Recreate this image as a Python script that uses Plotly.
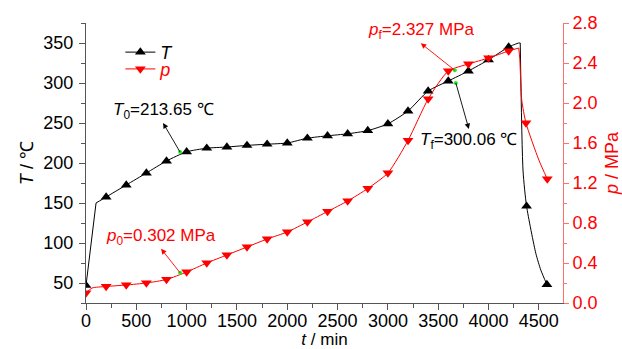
import plotly.graph_objects as go

# ---- data ----
# marker points (every ~200 min)
T_mark_t = [0, 200, 400, 600, 800, 1000, 1200, 1400, 1600, 1800, 2000, 2200, 2400,
            2600, 2800, 3000, 3200, 3400, 3600, 3800, 4000, 4200, 4378, 4580]
T_mark_v = [47, 157.5, 172.5, 187.5, 202.5, 214, 218.5, 220, 222, 223.5, 225, 231, 234,
            236.5, 240.5, 249, 265, 290, 302.5, 315, 329, 345, 146, 48]
p_mark_t = [0, 200, 400, 600, 800, 1000, 1200, 1400, 1600, 1800, 2000, 2200, 2400,
            2600, 2800, 3000, 3200, 3400, 3600, 3800, 4000, 4200, 4372, 4584]
p_mark_v = [0.10, 0.165, 0.18, 0.20, 0.235, 0.31, 0.40, 0.48, 0.56, 0.64, 0.71, 0.81, 0.915,
            1.02, 1.145, 1.30, 1.625, 2.04, 2.32, 2.39, 2.45, 2.52, 1.80, 1.24]

# curve paths (markers plus extra points)
T_start_t = [0, 100]
T_start_v = [47, 150]
T_rise_t = [100, 200, 400, 600, 800, 1000, 1200, 1400, 1600, 1800, 2000, 2200, 2400,
            2600, 2800, 3000, 3200, 3400, 3600, 3800, 4000, 4200, 4300, 4315]
T_rise_v = [150, 157.5, 172.5, 187.5, 202.5, 214, 218.5, 220, 222, 223.5, 225, 231, 234,
            236.5, 240.5, 249, 265, 290, 302.5, 315, 329, 345, 350, 350]
T_drop_t = [4315, 4343, 4378, 4470, 4520, 4580]
T_drop_v = [350, 190, 146, 87, 66, 48]

p_rise_t = [0, 60, 200, 400, 600, 800, 1000, 1200, 1400, 1600, 1800, 2000, 2200, 2400,
            2600, 2800, 3000, 3200, 3400, 3600, 3800, 4000, 4200, 4300]
p_rise_v = [0.10, 0.15, 0.165, 0.18, 0.20, 0.235, 0.31, 0.40, 0.48, 0.56, 0.64, 0.71, 0.81, 0.915,
            1.02, 1.145, 1.30, 1.625, 2.04, 2.32, 2.39, 2.45, 2.52, 2.55]
p_drop_t = [4300, 4310, 4330, 4372, 4500, 4584]
p_drop_v = [2.55, 2.45, 2.03, 1.80, 1.43, 1.24]

# key points
key_t = {"T0": 935, "Tf": 3675, "p0": 935, "pf": 3665}
key_v = {"T0": 213.65, "Tf": 300.06, "p0": 0.302, "pf": 2.327}
key_text = {
    "T0": "<i>T</i><sub>0</sub>=213.65 ℃",
    "p0": "<i>p</i><sub>0</sub>=0.302 MPa",
    "pf": "<i>p</i><sub>f</sub>=2.327 MPa",
    "Tf": "<i>T</i><sub>f</sub>=300.06 ℃",
}

x_ticks = [0, 500, 1000, 1500, 2000, 2500, 3000, 3500, 4000, 4500]
T_ticks = [50, 100, 150, 200, 250, 300, 350]
p_ticks = [0.0, 0.4, 0.8, 1.2, 1.6, 2.0, 2.4, 2.8]

FONT = "Liberation Sans, Arial, sans-serif"
BLACK = "#000000"
RED = "#ff0000"
AXC = "#555555"
RAXC = "#ff7070"

fig = go.Figure()

# T lines
fig.add_trace(go.Scatter(x=T_start_t, y=T_start_v, mode="lines", line=dict(color=BLACK, width=1),
                         showlegend=False, hoverinfo="skip"))
fig.add_trace(go.Scatter(x=T_rise_t, y=T_rise_v, mode="lines",
                         line=dict(color=BLACK, width=1, shape="spline", smoothing=0.6),
                         showlegend=False, hoverinfo="skip"))
fig.add_trace(go.Scatter(x=T_drop_t, y=T_drop_v, mode="lines",
                         line=dict(color=BLACK, width=1, shape="spline", smoothing=0.6),
                         showlegend=False, hoverinfo="skip"))
fig.add_trace(go.Scatter(x=T_mark_t, y=T_mark_v, mode="markers",
                         marker=dict(symbol="triangle-up", size=9.5, color=BLACK),
                         showlegend=False))

# p lines
fig.add_trace(go.Scatter(x=p_rise_t, y=p_rise_v, mode="lines", yaxis="y2",
                         line=dict(color=RED, width=1, shape="spline", smoothing=0.6),
                         showlegend=False, hoverinfo="skip"))
fig.add_trace(go.Scatter(x=p_drop_t, y=p_drop_v, mode="lines", yaxis="y2",
                         line=dict(color=RED, width=1, shape="spline", smoothing=0.6),
                         showlegend=False, hoverinfo="skip"))
fig.add_trace(go.Scatter(x=p_mark_t, y=p_mark_v, mode="markers", yaxis="y2",
                         marker=dict(symbol="triangle-down", size=9.5, color=RED),
                         showlegend=False))

# green key points
fig.add_trace(go.Scatter(x=[key_t["T0"], key_t["Tf"]], y=[key_v["T0"], key_v["Tf"]], mode="markers",
                         marker=dict(size=4, color="#22ee22"), showlegend=False))
fig.add_trace(go.Scatter(x=[key_t["p0"], key_t["pf"]], y=[key_v["p0"], key_v["pf"]], mode="markers",
                         yaxis="y2", marker=dict(size=4, color="#22ee22"), showlegend=False))

# legend entries
fig.add_trace(go.Scatter(x=[None], y=[None], mode="lines+markers", name="<i>T</i>", legend="legend",
                         line=dict(color=BLACK, width=1),
                         marker=dict(symbol="triangle-up", size=9.5, color=BLACK)))
fig.add_trace(go.Scatter(x=[None], y=[None], mode="lines+markers", name="<i>p</i>", yaxis="y2",
                         legend="legend2", line=dict(color=RED, width=1),
                         marker=dict(symbol="triangle-down", size=9.5, color=RED)))

# labels with arrows from the key points (arrow head at the label side)
arrows = [
    ("T0", "y", BLACK, -17, -29, "bottom"),
    ("p0", "y2", RED, -19, -24, "bottom"),
    ("pf", "y2", RED, -34, -27, "bottom"),
    ("Tf", "y", BLACK, 13, 46, "top"),
]
annotations = []
for k, yref, col, ax, ay, yanc in arrows:
    annotations.append(dict(text=key_text[k], x=key_t[k], y=key_v[k], xref="x", yref=yref,
                            showarrow=True, ax=ax, ay=ay, axref="pixel", ayref="pixel",
                            xanchor="center", yanchor=yanc, borderpad=0,
                            arrowside="start", startarrowhead=2, startarrowsize=1.2,
                            arrowwidth=0.9, arrowcolor=col,
                            font=dict(family=FONT, size=17, color=col)))

fig.update_layout(
    width=622, height=349,
    margin=dict(l=86, r=59, t=23, b=46, autoexpand=False),
    paper_bgcolor="white", plot_bgcolor="white",
    font=dict(family=FONT, size=18, color=BLACK),
    showlegend=True,
    legend=dict(x=0.072, y=0.961, xanchor="left", yanchor="top", bgcolor="rgba(0,0,0,0)",
                font=dict(family=FONT, size=18, color=BLACK), itemwidth=30),
    legend2=dict(x=0.072, y=0.901, xanchor="left", yanchor="top", bgcolor="rgba(0,0,0,0)",
                 font=dict(family=FONT, size=18, color=RED), itemwidth=30),
    xaxis=dict(range=[0, 4740], tickvals=x_ticks, ticks="outside", ticklen=6, tickwidth=1,
               tickcolor=AXC, showline=True, linecolor=AXC, linewidth=1, showgrid=False,
               zeroline=False, ticklabelstandoff=-5, automargin=False,
               minor=dict(dtick=250, tick0=0, ticks="outside", ticklen=4, tickcolor=AXC),
               tickfont=dict(family=FONT, size=18, color=BLACK),
               title=dict(text="<i>t</i> / min", font=dict(family=FONT, size=17), standoff=10)),
    yaxis=dict(range=[25, 375], tickvals=T_ticks, ticks="outside", ticklen=6, tickwidth=1,
               tickcolor=AXC, showline=True, linecolor=AXC, linewidth=1, showgrid=False,
               zeroline=False, ticklabelstandoff=2, automargin=False,
               minor=dict(dtick=25, tick0=0, ticks="outside", ticklen=4, tickcolor=AXC),
               tickfont=dict(family=FONT, size=18, color=BLACK),
               title=dict(text="<i>T</i> / ℃", font=dict(family=FONT, size=18), standoff=5)),
    yaxis2=dict(range=[0, 2.8], tickvals=p_ticks, tickformat=".1f", overlaying="y", side="right",
                anchor="x", ticks="outside", ticklen=5, tickwidth=1, tickcolor=RAXC,
                showline=True, linecolor=RAXC, linewidth=1, showgrid=False, zeroline=False,
                ticklabelstandoff=0, automargin=False,
                minor=dict(dtick=0.2, tick0=0, ticks="outside", ticklen=3, tickcolor=RAXC),
                tickfont=dict(family=FONT, size=18, color=RED),
                title=dict(text="<i>p</i> / MPa", font=dict(family=FONT, size=18, color=RED), standoff=16)),
    annotations=annotations,
)

fig.write_html("out.html")
